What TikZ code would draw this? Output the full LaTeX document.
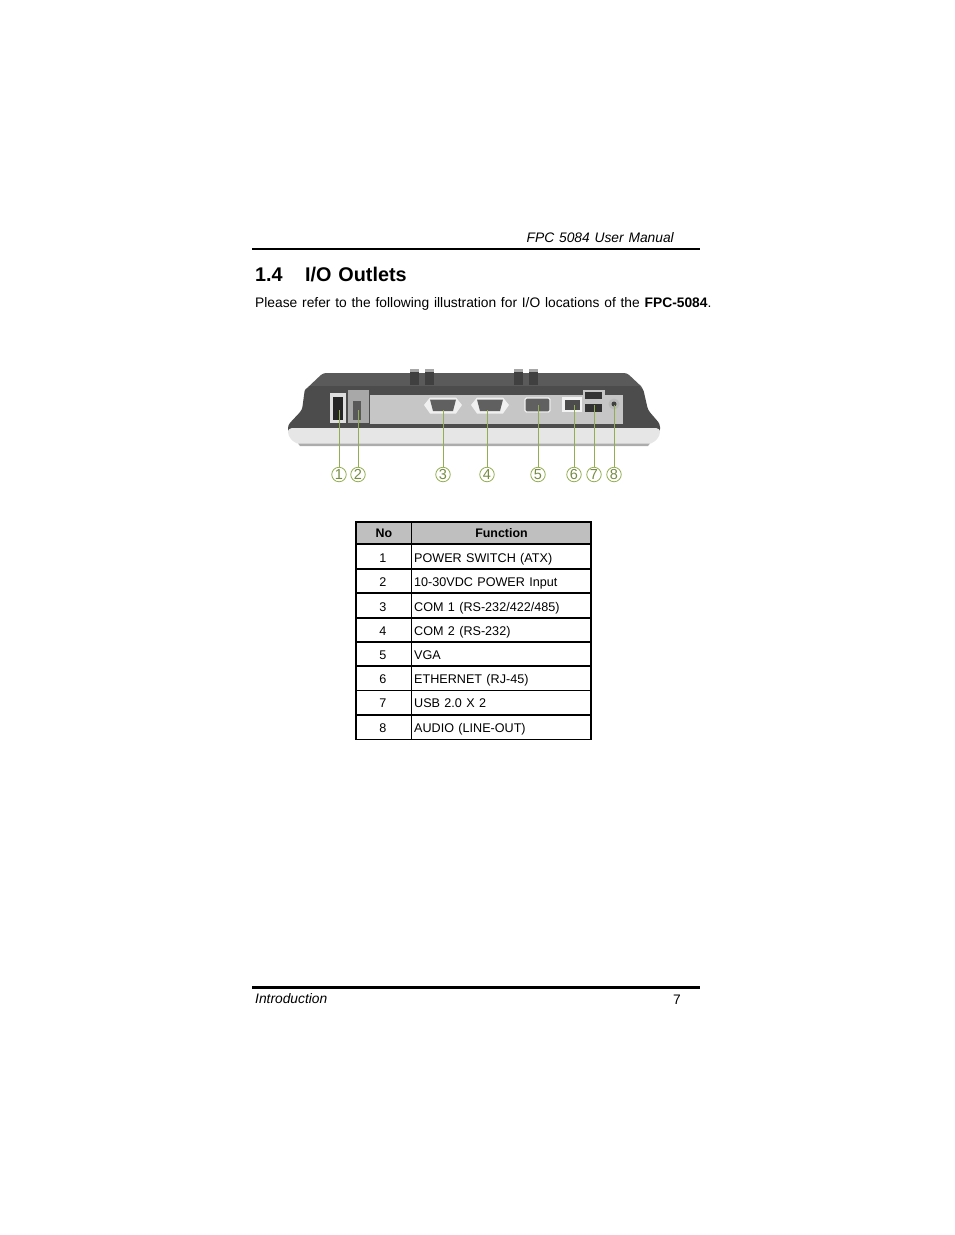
\documentclass[tikz,border=0pt]{standalone}
\usepackage{fontspec}
\setmainfont[WordSpace=1.25]{Liberation Sans}
\definecolor{leadgreen}{HTML}{93AE52}
\definecolor{bodydark}{HTML}{4C4C4C}
\definecolor{bodytop}{HTML}{5A5A5A}
\definecolor{platesilver}{HTML}{C6C6C6}
\definecolor{bezel}{HTML}{E6E6E6}
\tikzset{
	pagetext/.style={anchor=base west, inner sep=0pt, font=\fontsize{13.8}{16}\selectfont},
	celltext/.style={anchor=base west, inner sep=0pt, font=\fontsize{12.6}{14}\selectfont},
	callout/.style={circle, draw=leadgreen, line width=.8pt, minimum size=14.5pt, inner sep=0pt, text=leadgreen!80!black, font=\fontsize{14.5}{15}\selectfont},
	lead/.style={draw=leadgreen, line width=1pt},
	port/.style={fill=gray!75!black, draw=gray!12, line width=1.2pt, rounded corners=1.5pt}
}
\begin{document}
\begin{tikzpicture}[x=1pt, y=-1pt]
	\useasboundingbox (0,0) rectangle (954,1235);

% page header and footer
	\draw[line width=2pt] (252,249) -- (700,249);
	\draw[line width=3pt] (252,987) -- (700,987);
	\node[pagetext, anchor=base east, font=\fontsize{13.8}{16}\selectfont\itshape] (hdr) at (674,242) {FPC 5084 User Manual};
	\node[pagetext, font=\fontsize{13.8}{16}\selectfont\itshape] (ftr) at (255,1003) {Introduction};
	\node[pagetext] (pageno) at (673,1004) {7};

% heading and intro
	\node[pagetext, font=\fontsize{19.8}{24}\selectfont\bfseries] (secno) at (255,281) {1.4};
	\node[pagetext, font=\fontsize{19.8}{24}\selectfont\bfseries] (sectitle) at (305,281) {I/O Outlets};
	\node[pagetext] (intro) at (255,307) {Please refer to the following illustration for I/O locations of the \textbf{FPC-5084}.};

% rear view of the unit
	\fill[bodytop, rounded corners=3pt] (323,373) -- (627,373) -- (643,388) -- (643,395) -- (305,395) -- (305,390) -- cycle;
	\fill[bodydark, rounded corners=3pt] (305,388) -- (643,388) -- (648,410) -- (660,424) -- (660,432) -- (288,432) -- (288,425) -- (302,410) -- cycle;
	\foreach \px in {414,429,518,533} {
		\fill[black!75] (\px-4.5,369) rectangle (\px+4.5,385);
		\fill[gray!70] (\px-4.5,369) rectangle (\px+4.5,372);
	}
	\fill[black!70] (309,386) rectangle (640,388);
	\fill[bezel, rounded corners=4pt] (288,428) -- (660,428) -- (660,436) -- (652,444) -- (296,444) -- (288,436) -- cycle;
	\fill[gray!65] (298,443.5) -- (650,443.5) -- (648,446) -- (300,446) -- cycle;
	\fill[platesilver] (370,395) rectangle (623,424);
	\fill[platesilver!85!black] (348,390) rectangle (369,423);
	\fill[platesilver] (583,390) rectangle (605,413);

% ports
	\fill[gray!25] (330,393) rectangle (346,423);
	\fill[black!85] (333,397) rectangle (343,420);
	\fill[gray!70!black] (353,401) rectangle (361,420);
	\foreach \px in {443,490} {
		\fill[gray!12] (\px-19,405) -- (\px-13,397.5) -- (\px+13,397.5) -- (\px+19,405) -- (\px+13,413.5) -- (\px-13,413.5) -- cycle;
		\fill[gray!75!black] (\px-13,399.5) -- (\px+13,399.5) -- (\px+10,411) -- (\px-10,411) -- cycle;
	}
	\fill[port] (525,398) rectangle (550,412);
	\fill[gray!10] (562,397) rectangle (582,412);
	\fill[black!70] (564.5,399.5) rectangle (579.5,409.5);
	\fill[black!80] (585,392) rectangle (602,399);
	\fill[black!80] (585,404) rectangle (602,412);
	\fill[gray!55] (614,404) circle (5.5);
	\fill[black!75] (614,404) circle (2.5);

% where the leaders end
	\coordinate (p1) at (339,410);
	\coordinate (p2) at (358,410);
	\coordinate (p3) at (443,410);
	\coordinate (p4) at (487,410);
	\coordinate (p5) at (537.5,405);
	\coordinate (p6) at (574,405);
	\coordinate (p7) at (594,405);
	\coordinate (p8) at (614,405);

% numbered callouts
	\foreach \n/\cx in {1/339,2/358,3/443,4/487,5/538,6/574,7/594,8/614} {
		\node[callout] (c\n) at (\cx,474.5) {\n};
		\draw[lead] (c\n) -- (c\n |- p\n);
	}

% table
	\fill[gray!50] (356,522) rectangle (591,544);
	\draw[line width=1.6pt] (356,522) rectangle (591,739.5);
	\draw[line width=1.3pt] (411.5,522) -- (411.5,739.5);
	\foreach \yy in {544,569,593,618,642,666,690.5,715}
		\draw[line width=1.3pt] (356,\yy) -- (591,\yy);
	\node[celltext, anchor=base, font=\fontsize{12.4}{14}\selectfont\bfseries] (headno) at (384,537) {No};
	\node[celltext, anchor=base, font=\fontsize{12.4}{14}\selectfont\bfseries] (headfunc) at (501.5,537) {Function};
	\foreach \n/\func/\yy in {1/{POWER SWITCH (ATX)}/562,2/{10-30VDC POWER Input}/586,3/{COM 1 (RS-232/422/485)}/611,4/{COM 2 (RS-232)}/635,5/VGA/659,6/{ETHERNET (RJ-45)}/683,7/{USB 2.0 X 2}/707,8/{AUDIO (LINE-OUT)}/732} {
		\node[celltext, anchor=base] (no\n) at (383,\yy) {\n};
		\node[celltext] (func\n) at (414,\yy) {\func};
	}
\end{tikzpicture}
\end{document}
